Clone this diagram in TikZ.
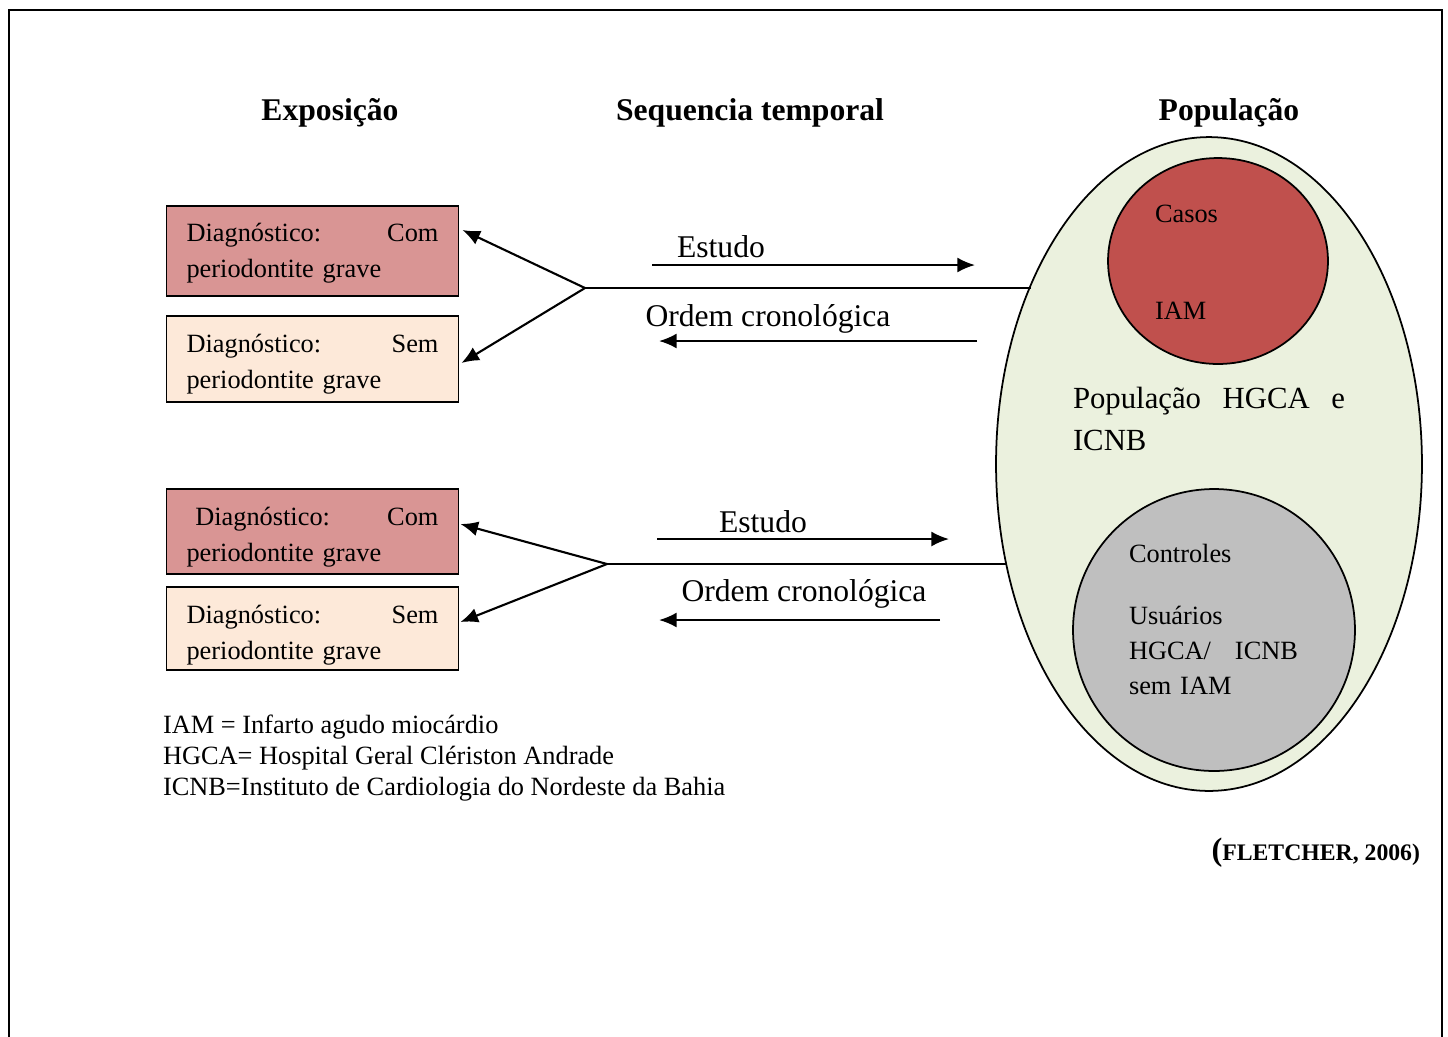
\documentclass[tikz,border=0pt]{standalone}
\usepackage{fontspec}
\setmainfont{Liberation Serif}
\usetikzlibrary{arrows.meta, calc, shapes.geometric, positioning}

\definecolor{comfill}{HTML}{D99594}
\definecolor{semfill}{HTML}{FDE9D9}
\definecolor{popfill}{HTML}{EBF1DE}
\definecolor{casofill}{HTML}{C0504D}
\definecolor{ctrlfill}{HTML}{BFBFBF}

\begin{document}
\begin{tikzpicture}[x=0.02cm, y=-0.02cm, every node/.style={outer sep=0pt, inner sep=0pt}]
	\tikzstyle{diagbox}=[
		draw,
		line width=1.1pt,
		text width=5.04cm,
		inner xsep=0.4cm,
		font=\fontsize{15}{20.5}\selectfont
	]
	\tikzstyle{title}=[anchor=base, font=\fontsize{18}{22}\selectfont\bfseries]
	\tikzstyle{tempo}=[anchor=base, font=\fontsize{18}{22}\selectfont]
	\tikzstyle{small}=[anchor=base west, align=left, font=\fontsize{15}{20}\selectfont]
	\tikzstyle{arr}=[line width=1.2pt, -{Latex[length=10pt, width=8.5pt]}]
	\tikzstyle{link}=[line width=1pt]
	\tikzstyle{blob}=[ellipse, draw, line width=1pt]

	\useasboundingbox (0,0) rectangle (1448,1036);
	\draw [line width=1.4pt] (9,1040) -- (9,10) -- (1442,10) -- (1442,1040);

	% titulos
	\node (exp) [title] at (330,120) {Exposição};
	\node (seq) [title] at (750,120) {Sequencia temporal};
	\node (popt) [title] at (1229,120) {População};

	% exposicao
	\node (com1) [diagbox, fill=comfill, minimum height=1.8cm, text height=13.2pt] at (312.5,251) {Diagnóstico:\hfill Com\\periodontite grave};
	\node (sem1) [diagbox, fill=semfill, minimum height=1.72cm, text height=16.2pt] at (312.5,359) {Diagnóstico:\hfill Sem\\periodontite grave};
	\node (com2) [diagbox, fill=comfill, minimum height=1.7cm, text height=17.2pt] at (312.5,531.5) {\ Diagnóstico:\hfill Com\\periodontite grave};
	\node (sem2) [diagbox, fill=semfill, minimum height=1.66cm, text height=18.4pt] at (312.5,628.5) {Diagnóstico:\hfill Sem\\periodontite grave};

	% populacao
	\node (pop) [blob, fill=popfill, minimum width=8.52cm, minimum height=13.08cm] at (1209,464) {};
	\node (casos) [blob, fill=casofill, minimum width=4.4cm, minimum height=4.12cm] at (1218,261) {};
	\node (ctrl) [blob, fill=ctrlfill, minimum width=5.64cm, minimum height=5.64cm] at (1214,630) {};

	\node (casostxt) [small] at (1155,222) {Casos};
	\node (iamtxt) [small] at (1155,319) {IAM};
	\node (poptxt) [anchor=base west, text width=5.44cm, font=\fontsize{17.5}{24}\selectfont] at (1073,408) {População\hfill HGCA\hfill e\\ICNB};
	\node (ctrltxt) [small] at (1129,562) {Controles};
	\node (usrtxt) [anchor=base west, text width=3.38cm, font=\fontsize{15}{20}\selectfont] at (1129,624) {Usuários\\HGCA/\hfill ICNB\\sem IAM};

	% sequencia
	\coordinate (f1) at (585,288);
	\coordinate (f2) at (607,564);
	\draw [arr] (f1) -- ($(com1.east)+(4,-21)$);
	\draw [arr] (f1) -- ($(sem1.east)+(3,4)$);
	\draw [link] (f1) -- (f1 -| pop.135);
	\draw [arr] (f2) -- ($(com2.east)+(2,-7.5)$);
	\draw [arr] (f2) -- ($(sem2.east)+(2,-6.5)$);
	\draw [link] (f2) -- (f2 -| pop.206);

	\node (est1) [tempo] at (721,257) {Estudo};
	\node (ord1) [tempo] at (768,326) {Ordem cronológica};
	\node (est2) [tempo] at (763,532) {Estudo};
	\node (ord2) [tempo] at (804,601) {Ordem cronológica};
	\coordinate (e1a) at (652,265);
	\coordinate (e1b) at (975,265);
	\coordinate (o1a) at (977,341);
	\coordinate (o1b) at (659,341);
	\coordinate (e2a) at (657,539);
	\coordinate (e2b) at (949,539);
	\coordinate (o2a) at (940,620);
	\coordinate (o2b) at (659,620);
	\draw [arr] (e1a) -- (e1b);
	\draw [arr] (o1a) -- (o1b);
	\draw [arr] (e2a) -- (e2b);
	\draw [arr] (o2a) -- (o2b);

	% legenda
	\node (leg) [anchor=north west, align=left, font=\fontsize{15}{17.6}\selectfont] at (163,715)
		{IAM = Infarto agudo miocárdio\\HGCA= Hospital Geral Clériston Andrade\\ICNB=Instituto de Cardiologia do Nordeste da Bahia};
	\node (fonte) [anchor=base east, font=\bfseries] at (1420,860)
		{{\fontsize{18.5}{18}\selectfont(}{\fontsize{13.5}{15}\selectfont FLETCHER, 2006)}};
\end{tikzpicture}
\end{document}
